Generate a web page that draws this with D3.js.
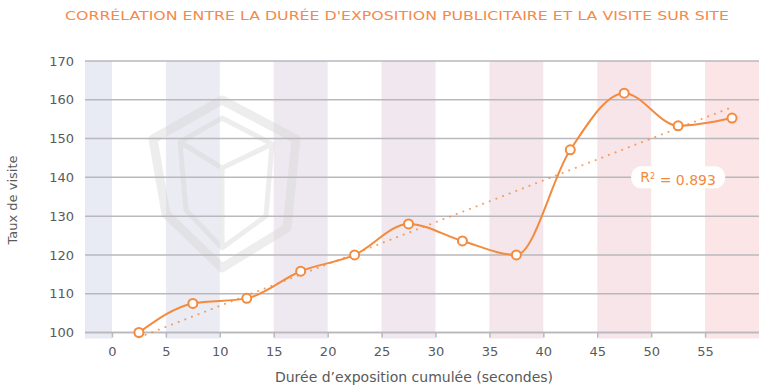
<!DOCTYPE html>
<html>
<head>
<meta charset="utf-8">
<script src="https://cdn.jsdelivr.net/npm/d3@7"></script>
<style>
  body { margin: 0; background: #fff; }
  text { font-family: "DejaVu Sans", sans-serif; }
</style>
</head>
<body>
<svg id="chart" width="772" height="391"></svg>
<script>
// data
var seconds = [2.5, 7.5, 12.5, 17.5, 22.5, 27.5, 32.5, 37.5, 42.5, 47.5, 52.5, 57.5];
var visits = [100, 107.5, 108.8, 115.8, 120, 128, 123.6, 120, 147.1, 161.7, 153.3, 155.3];
var xTicks = [0, 5, 10, 15, 20, 25, 30, 35, 40, 45, 50, 55];
var yTicks = [100, 110, 120, 130, 140, 150, 160, 170];
var bandStarts = [-2.5, 5, 15, 25, 35, 45, 55];
var bandEnds = [0, 10, 20, 30, 40, 50, 60];
var bandColors = ["#e8ebf4", "#ebebf3", "#eee9f1", "#f1e7ee", "#f4e6eb", "#f8e5e9", "#fce5e7"];
var r2Text = "0.893";
var r2Pos = [52.5, 140];

var orange = "#f38a3d";

var svg = d3.select("#chart");
var x = d3.scaleLinear().domain([-2.5, 60]).range([85, 759]);
var y = d3.scaleLinear().domain([100, 170]).range([332.5, 61]);

// bands
svg.selectAll("rect.band")
    .data(bandStarts)
    .enter().append("rect")
    .attr("class", "band")
    .attr("x", function(d) { return x(d); })
    .attr("y", y(170))
    .attr("width", function(d, i) { return x(bandEnds[i]) - x(d); })
    .attr("height", y(100) - y(170) + 6)
    .attr("fill", function(d, i) { return bandColors[i]; });

// watermark
var wm = svg.append("g")
    .attr("fill", "none")
    .attr("stroke", "#d6d6d6")
    .attr("stroke-opacity", 0.45)
    .attr("stroke-linejoin", "round");
wm.append("path")
    .attr("stroke-width", 9)
    .attr("d", "M222,100 L296,139 L287,228 L222,268 L166,214 L153,139 Z");
wm.append("path")
    .attr("stroke-width", 5)
    .attr("d", "M180,142 L222,118 L272,144 L222,168 Z M222,168 L222,248 M180,142 L186,210 L222,248 L266,216 L272,144");

// grid
svg.selectAll("line.grid")
    .data(yTicks)
    .enter().append("line")
    .attr("class", "grid")
    .attr("x1", x(-2.5))
    .attr("x2", x(60))
    .attr("y1", function(d) { return y(d); })
    .attr("y2", function(d) { return y(d); })
    .attr("stroke", "#b9b9bd")
    .attr("stroke-width", 1.5);

// x axis
var xAxis = svg.append("g")
    .attr("transform", "translate(0," + y(100) + ")")
    .call(d3.axisBottom(x).tickValues(xTicks).tickSize(5).tickPadding(9));
xAxis.select(".domain").attr("stroke", "#b9b9bd").attr("stroke-width", 1.5)
    .attr("d", "M" + x(-2.5) + ",0H" + x(60));
xAxis.selectAll(".tick line").attr("stroke", "#b9b9bd").attr("stroke-width", 1.5);
xAxis.selectAll(".tick text").attr("fill", "#5a5a5a").style("font-size", "13px")
    .style("font-family", "DejaVu Sans, sans-serif");

// y axis labels
var yAxis = svg.append("g")
    .attr("transform", "translate(" + x(-2.5) + ",0)")
    .call(d3.axisLeft(y).tickValues(yTicks).tickSize(0).tickPadding(11));
yAxis.select(".domain").remove();
yAxis.selectAll(".tick text").attr("fill", "#5a5a5a").style("font-size", "13px")
    .style("font-family", "DejaVu Sans, sans-serif");

// trend line (least squares)
var mx = d3.mean(seconds), my = d3.mean(visits);
var sxy = d3.sum(seconds, function(d, i) { return (d - mx) * (visits[i] - my); });
var sxx = d3.sum(seconds, function(d) { return (d - mx) * (d - mx); });
var slope = sxy / sxx, icpt = my - slope * mx;
var x0 = seconds[0], x1 = seconds[seconds.length - 1];
svg.append("line")
    .attr("x1", x(x0)).attr("y1", y(icpt + slope * x0))
    .attr("x2", x(x1)).attr("y2", y(icpt + slope * x1))
    .attr("stroke", orange)
    .attr("stroke-width", 2)
    .attr("stroke-linecap", "round")
    .attr("stroke-dasharray", "0.1,7")
    .attr("opacity", 0.8);

// curve
var line = d3.line()
    .x(function(d, i) { return x(d); })
    .y(function(d, i) { return y(visits[i]); })
    .curve(d3.curveMonotoneX);
svg.append("path")
    .datum(seconds)
    .attr("d", line)
    .attr("fill", "none")
    .attr("stroke", orange)
    .attr("stroke-width", 2);

svg.selectAll("circle.pt")
    .data(seconds)
    .enter().append("circle")
    .attr("class", "pt")
    .attr("cx", function(d) { return x(d); })
    .attr("cy", function(d, i) { return y(visits[i]); })
    .attr("r", 4.5)
    .attr("fill", "#fff")
    .attr("stroke", orange)
    .attr("stroke-width", 2);

// R2 label
var lab = svg.append("g").attr("transform", "translate(" + x(r2Pos[0]) + "," + y(r2Pos[1]) + ")");
lab.append("rect")
    .attr("x", -47).attr("y", -11).attr("width", 94).attr("height", 22)
    .attr("rx", 10).attr("fill", "#fff");
var t = lab.append("text")
    .attr("text-anchor", "middle")
    .attr("dy", "0.35em")
    .attr("fill", orange)
    .style("font-size", "14px");
t.append("tspan").text("R");
t.append("tspan").attr("dy", "-0.45em").style("font-size", "8px").text("2");
t.append("tspan").attr("dy", "0.45em").text(" = " + r2Text);

// titles
svg.append("text")
    .attr("x", 397).attr("y", 20)
    .attr("text-anchor", "middle")
    .attr("fill", "#f5894a")
    .style("font-size", "13px")
    .attr("textLength", 664)
    .attr("lengthAdjust", "spacingAndGlyphs")
    .text("CORRÉLATION ENTRE LA DURÉE D'EXPOSITION PUBLICITAIRE ET LA VISITE SUR SITE");

svg.append("text")
    .attr("x", 414).attr("y", 382)
    .attr("text-anchor", "middle")
    .attr("fill", "#5a5a5a")
    .style("font-size", "14px")
    .text("Durée d’exposition cumulée (secondes)");

svg.append("text")
    .attr("transform", "translate(17,200) rotate(-90)")
    .attr("text-anchor", "middle")
    .attr("fill", "#5a5a5a")
    .style("font-size", "13px")
    .text("Taux de visite");
</script>
</body>
</html>
